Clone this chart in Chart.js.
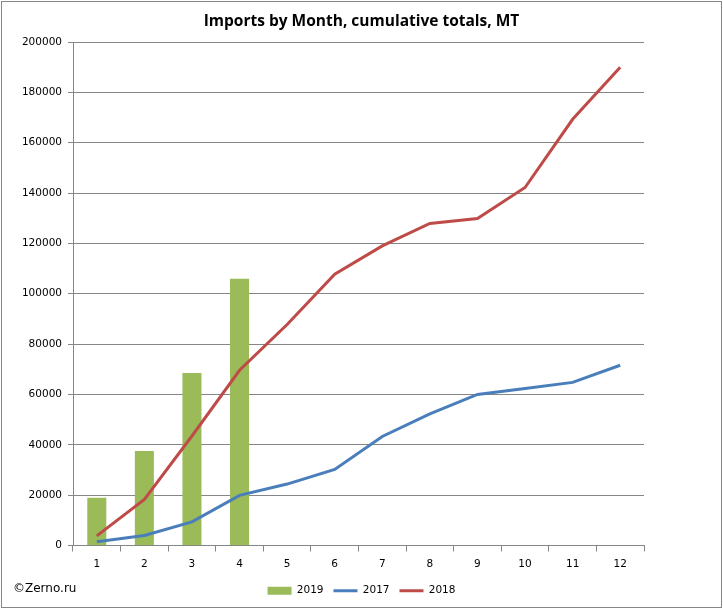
<!DOCTYPE html>
<html>
<head>
<meta charset="utf-8">
<script src="https://cdn.jsdelivr.net/npm/chart.js@4"></script>
<style>
  html, body { margin: 0; padding: 0; background: #fff; }
  #wrap { position: relative; width: 723px; height: 610px; }
  #credit { position: absolute; left: 13px; top: 581px; font: 12px "DejaVu Sans", sans-serif; color: #000; }
</style>
</head>
<body>
<div id="wrap">
  <canvas id="c" width="723" height="610"></canvas>
  <div id="credit">©Zerno.ru</div>
</div>
<script>
const months = ['1','2','3','4','5','6','7','8','9','10','11','12'];
const imports2019 = [19000, 37500, 68500, 106000, null, null, null, null, null, null, null, null];
const imports2017 = [1500, 4000, 9400, 19900, 24400, 30200, 43300, 52300, 60000, 62400, 64800, 71600];
const imports2018 = [3800, 18300, 43500, 69600, 87800, 107800, 119000, 127900, 129900, 142200, 169300, 190000];
const yTicks = [0, 20000, 40000, 60000, 80000, 100000, 120000, 140000, 160000, 180000, 200000];

const tickFont = { family: 'DejaVu Sans', size: 10.5 };

const borderPlugin = {
  id: 'outerBorder',
  beforeDraw(chart) {
    const ctx = chart.ctx;
    ctx.save();
    ctx.fillStyle = '#fff';
    ctx.fillRect(0, 0, chart.width, chart.height);
    ctx.restore();
  },
  afterDraw(chart) {
    const ctx = chart.ctx;
    ctx.save();
    ctx.strokeStyle = '#868686';
    ctx.lineWidth = 1;
    ctx.strokeRect(1.5, 1.5, 720, 606);
    ctx.restore();
  }
};

new Chart(document.getElementById('c'), {
  data: {
    labels: months,
    datasets: [
      { type: 'bar', label: '2019', data: imports2019, backgroundColor: '#9BBB59', borderWidth: 0,
        categoryPercentage: 1, barPercentage: 0.4, pointStyle: 'rect', order: 3 },
      { type: 'line', label: '2017', data: imports2017, borderColor: '#4A7EBB', backgroundColor: '#4A7EBB',
        borderWidth: 3, pointRadius: 0, pointStyle: 'line', tension: 0, order: 2 },
      { type: 'line', label: '2018', data: imports2018, borderColor: '#BE4B48', backgroundColor: '#BE4B48',
        borderWidth: 3, pointRadius: 0, pointStyle: 'line', tension: 0, order: 1 }
    ]
  },
  options: {
    responsive: false,
    animation: false,
    devicePixelRatio: 1,
    layout: { padding: { left: 0, right: 0, top: 0, bottom: 4 } },
    plugins: {
      title: {
        display: true,
        text: 'Imports by Month, cumulative totals, MT',
        font: { family: 'Open Sans', size: 15.5, weight: 'bold' },
        color: '#000',
        padding: { top: 12, bottom: 11.4 }
      },
      legend: {
        position: 'bottom',
        labels: {
          font: tickFont,
          color: '#000',
          usePointStyle: true,
          pointStyleWidth: 24,
          boxHeight: 8,
          padding: 10,
          sort: (a, b) => a.datasetIndex - b.datasetIndex
        }
      },
      tooltip: { enabled: false }
    },
    scales: {
      x: {
        offset: true,
        grid: { display: true, offset: true, drawOnChartArea: false, drawTicks: true, tickLength: 6, color: '#868686' },
        border: { display: true, color: '#868686' },
        ticks: { font: tickFont, color: '#000', padding: 6 },
        afterFit(scale) { scale.height = 30; }
      },
      y: {
        min: 0, max: 200000,
        afterBuildTicks(scale) { scale.ticks = yTicks.map(v => ({ value: v })); },
        grid: { color: '#868686', tickLength: 5, drawTicks: true },
        border: { display: true, color: '#868686' },
        ticks: { font: tickFont, color: '#000', padding: 6, callback: v => String(v) },
        afterFit(scale) { scale.width = 73; }
      },
      yRight: {
        position: 'right',
        display: true,
        min: 0, max: 200000,
        grid: { display: false, drawTicks: false },
        border: { display: false },
        ticks: { display: false },
        afterFit(scale) { scale.width = 79; }
      }
    }
  },
  plugins: [borderPlugin]
});
</script>
</body>
</html>
